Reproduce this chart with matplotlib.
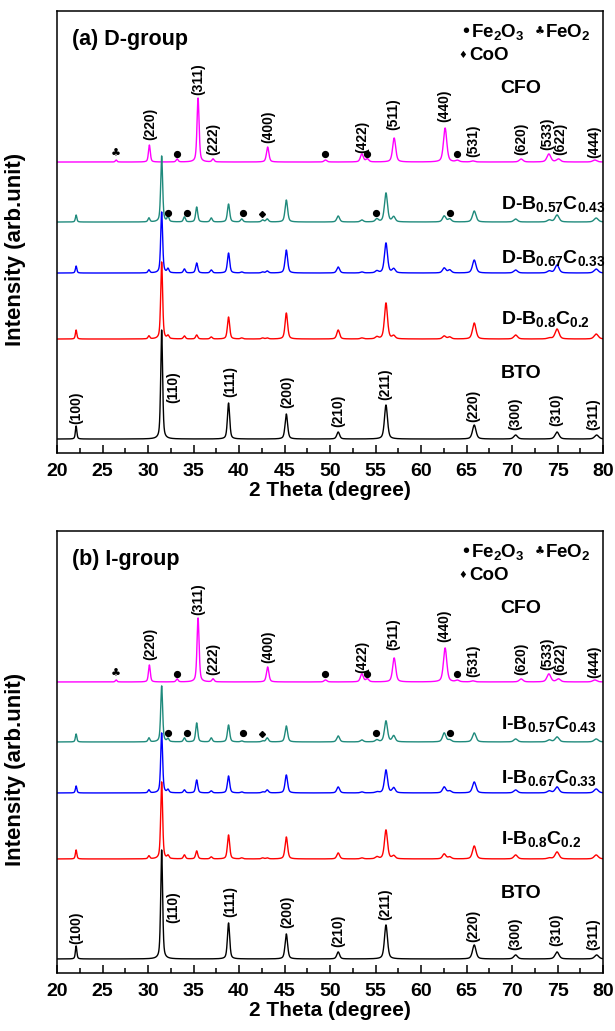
import numpy as np
import matplotlib
matplotlib.use('Agg')
import matplotlib.pyplot as plt
from matplotlib.ticker import MultipleLocator

plt.rcParams['font.family'] = ['Liberation Sans', 'DejaVu Sans']
plt.rcParams['font.weight'] = 'bold'
plt.rcParams['axes.labelweight'] = 'bold'
plt.rcParams['mathtext.default'] = 'regular'

# ---- peak lists (2-theta in degree, height in arb. units) ----
bto_pos = [22.1, 31.5, 38.85, 45.2, 50.9, 56.15, 65.85, 70.4, 74.95, 79.3]
bto_int = [13, 109, 36, 25, 7, 34, 14, 4, 7, 4]

cfo_pos = [26.5, 30.15, 33.2, 35.5, 37.15, 43.15, 49.5, 53.5, 54.1, 57.05,
           62.65, 64.0, 65.7, 71.0, 74.05, 75.1, 79.1]
cfo_int = [2, 17, 3, 64, 3, 15, 2, 8, 3, 24, 34, 1.5, 1, 3, 8, 3, 2]

# composites share the same peak positions
comp_pos = [22.1, 30.1, 31.5, 32.2, 34.0, 35.35, 36.95, 38.85, 40.3, 42.6, 43.1,
            45.2, 50.9, 53.5, 55.15, 56.15, 57.0, 62.55, 63.15, 65.85, 70.4,
            74.1, 74.95, 79.25]
d057_int = [7, 4, 66, 5, 5, 15, 4, 18, 3, 2, 3, 22, 6, 2, 3, 29, 5, 6, 3, 11, 3, 2, 7, 4]
d067_int = [7, 3, 61, 4, 4, 10, 3, 20, 1, 1, 2, 23, 6, 1, 2, 30, 4, 5, 3, 13, 3, 2, 8, 4]
d08_int = [9, 3, 77, 3, 3, 4, 2, 22, 1, 1, 1, 26, 9, 1, 2, 36, 3, 3, 2, 16, 4, 1, 10, 5]
i057_int = [8, 4, 56, 3, 4, 19, 4, 17, 1, 1, 4, 16, 6, 2, 2, 21, 6, 9, 2, 9, 3, 2, 5, 3]
i067_int = [7, 3, 60, 3, 3, 13, 2, 17, 1, 1, 3, 18, 6, 1, 1, 23, 5, 6, 2, 11, 3, 2, 6, 4]
i08_int = [9, 3, 77, 3, 4, 8, 2, 24, 1, 1, 1, 22, 6, 1, 2, 29, 3, 5, 2, 13, 4, 1, 7, 4]

# impurity phase marks
cfo_fe2o3 = [33.2, 49.5, 54.1, 64.0]
cfo_feo2 = [26.5]
comp_fe2o3 = [32.25, 34.3, 40.4, 55.1, 63.2]
comp_coo = [42.5]

# Miller indices: label, x, bottom of label
cfo_hkl = ['(220)', '(311)', '(222)', '(400)', '(422)', '(511)', '(440)',
           '(531)', '(620)', '(533)', '(622)', '(444)']
cfo_hkl_x = [30.2, 35.5, 37.2, 43.2, 53.5, 57.0, 62.6, 65.7, 71.0, 73.85, 75.3, 79.0]
cfo_hkl_y = [313, 358, 298, 310, 300, 323, 331, 296, 298, 303, 298, 295]
bto_hkl = ['(100)', '(110)', '(111)', '(200)', '(210)', '(211)', '(220)',
           '(300)', '(310)', '(311)']
bto_hkl_x = [22.1, 32.8, 39.0, 45.3, 50.9, 56.1, 65.7, 70.4, 74.9, 78.9]
bto_hkl_y = [29, 50, 56, 45, 26, 53, 31, 23, 27, 23]

panels = [
    {'title': '(a) D-group', 'prefix': 'D',
     'series': [cfo_int, d057_int, d067_int, d08_int, bto_int]},
    {'title': '(b) I-group', 'prefix': 'I',
     'series': [cfo_int, i057_int, i067_int, i08_int, bto_int]},
]
positions = [cfo_pos, comp_pos, comp_pos, comp_pos, bto_pos]
colors = ['#ff00ff', '#1f8a7c', '#0000ff', '#ff0000', '#000000']
offsets = [291, 231, 180, 114, 14]
name_y = [360, 244, 190, 129, 75]


def pattern(x, pos, inten):
    y = np.zeros_like(x)
    for p, h in zip(pos, inten):
        w = 0.09 + 0.003 * (p - 20)
        lor = w ** 2 / ((x - p) ** 2 + w ** 2)
        gau = np.exp(-np.log(2) * ((x - p) / w) ** 2)
        y += h * (0.5 * lor + 0.5 * gau)
    return y


x = np.linspace(20, 80, 6001)

fig = plt.figure(figsize=(6.15, 10.31), dpi=100)
rects = [[0.0927, 0.5606, 0.8878, 0.4287], [0.0927, 0.0563, 0.8878, 0.4287]]

for rect, panel in zip(rects, panels):
    ax = fig.add_axes(rect)
    for pos, inten, c, off in zip(positions, panel['series'], colors, offsets):
        ax.plot(x, off + pattern(x, pos, inten), color=c, lw=1.0)

    # impurity marks
    ax.plot(cfo_fe2o3, [offsets[0] + 8] * len(cfo_fe2o3), 'o', color='k', ms=4.2)
    for xp in cfo_feo2:
        ax.text(xp, offsets[0] + 8, '\u2663', family='DejaVu Sans', fontsize=8,
                ha='center', va='center')
    ax.plot(comp_fe2o3, [offsets[1] + 9] * len(comp_fe2o3), 'o', color='k', ms=4.2)
    ax.plot(comp_coo, [offsets[1] + 8] * len(comp_coo), 'D', color='k', ms=3)

    for lab, lx, ly in zip(cfo_hkl, cfo_hkl_x, cfo_hkl_y):
        ax.text(lx, ly, lab, rotation=90, ha='center', va='bottom', fontsize=10)
    for lab, lx, ly in zip(bto_hkl, bto_hkl_x, bto_hkl_y):
        ax.text(lx, ly, lab, rotation=90, ha='center', va='bottom', fontsize=10)

    p = panel['prefix']
    names = ['CFO', p + '-B$_{0.57}$C$_{0.43}$', p + '-B$_{0.67}$C$_{0.33}$',
             p + '-B$_{0.8}$C$_{0.2}$', 'BTO']
    for nm, ny in zip(names, name_y):
        ax.text(68.75, ny, nm, fontsize=14, ha='left', va='baseline')

    # phase key
    ax.text(64.3, 416, '\u2022Fe$_2$O$_3$', fontsize=13.5, ha='left', va='baseline')
    ax.text(73.0, 421, '\u2663', family='DejaVu Sans', fontsize=8, ha='center', va='center')
    ax.text(73.6, 416, 'FeO$_2$', fontsize=13.5, ha='left', va='baseline')
    ax.text(64.6, 398, '\u2666', family='DejaVu Sans', fontsize=7, ha='center', va='center')
    ax.text(65.3, 393, 'CoO', fontsize=13.5, ha='left', va='baseline')

    ax.text(0.0275, 0.923, panel['title'], transform=ax.transAxes, fontsize=15.5,
            ha='left', va='baseline')

    ax.set_xlim(20, 80)
    ax.set_ylim(0, 442)
    ax.set_yticks([])
    ax.xaxis.set_major_locator(MultipleLocator(5))
    ax.xaxis.set_minor_locator(MultipleLocator(2.5))
    ax.tick_params(axis='x', which='both', direction='in', top=False,
                   labelsize=14, pad=7, width=1.1)
    ax.tick_params(axis='x', which='major', length=6)
    ax.tick_params(axis='x', which='minor', length=3.5)
    for s in ax.spines.values():
        s.set_linewidth(1.1)
    ax.set_xlabel('2 Theta (degree)', fontsize=15, labelpad=1)
    ax.set_ylabel('Intensity (arb.unit)', fontsize=16)
    ax.yaxis.set_label_coords(-0.057, 0.46)

fig.savefig('out.png', dpi=100)
